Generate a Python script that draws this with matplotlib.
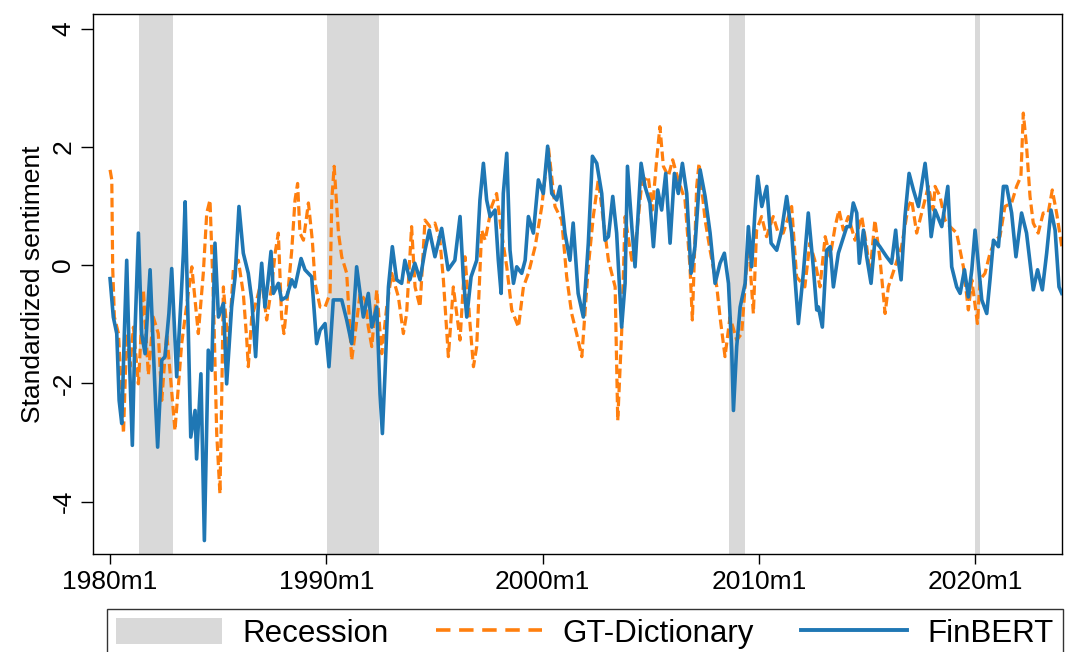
import matplotlib
matplotlib.use("Agg")
import matplotlib.pyplot as plt
from matplotlib.patches import Patch
from matplotlib.lines import Line2D

plt.rcParams['font.family'] = ['Liberation Sans', 'DejaVu Sans']

# FinBERT series (decimal year, standardized sentiment)
fin_t = [1980.00, 1980.15, 1980.31, 1980.42, 1980.54, 1980.66, 1980.77, 1980.88, 1981.03, 1981.15,
         1981.31, 1981.46, 1981.62, 1981.85, 1982.00, 1982.11, 1982.20, 1982.39, 1982.54, 1982.72,
         1982.85, 1983.08, 1983.28, 1983.39, 1983.47, 1983.62, 1983.73, 1983.93, 1984.00, 1984.20,
         1984.36, 1984.54, 1984.70, 1984.85, 1985.01, 1985.24, 1985.39, 1985.62, 1985.78, 1985.96,
         1986.16, 1986.39, 1986.55, 1986.73, 1986.85, 1987.01, 1987.16, 1987.29, 1987.44, 1987.55,
         1987.78, 1987.93, 1988.16, 1988.40, 1988.55, 1988.83, 1989.01, 1989.32, 1989.55, 1989.71,
         1989.94, 1990.12, 1990.32, 1990.71, 1990.94, 1991.17, 1991.40, 1991.56, 1991.71, 1991.94,
         1992.10, 1992.33, 1992.48, 1992.59, 1992.71, 1992.87, 1993.05, 1993.25, 1993.48, 1993.63,
         1993.86, 1994.09, 1994.33, 1994.56, 1994.76, 1995.02, 1995.33, 1995.63, 1995.94, 1996.18,
         1996.33, 1996.49, 1996.69, 1996.95, 1997.10, 1997.26, 1997.41, 1997.57, 1997.80, 1997.95,
         1998.08, 1998.18, 1998.34, 1998.49, 1998.65, 1998.80, 1999.03, 1999.19, 1999.34, 1999.57,
         1999.80, 2000.03, 2000.23, 2000.42, 2000.65, 2000.80, 2001.03, 2001.26, 2001.41, 2001.64,
         2001.88, 2002.11, 2002.30, 2002.50, 2002.73, 2002.88, 2003.04, 2003.24, 2003.42, 2003.58,
         2003.65, 2003.81, 2003.92, 2004.12, 2004.27, 2004.55, 2004.73, 2004.96, 2005.12, 2005.32,
         2005.50, 2005.69, 2005.89, 2006.09, 2006.27, 2006.46, 2006.66, 2006.86, 2007.04, 2007.28,
         2007.51, 2007.74, 2007.97, 2008.20, 2008.40, 2008.59, 2008.74, 2008.82, 2008.97, 2009.13,
         2009.36, 2009.51, 2009.66, 2009.82, 2009.94, 2010.13, 2010.36, 2010.56, 2010.82, 2011.05,
         2011.28, 2011.51, 2011.82, 2012.05, 2012.28, 2012.51, 2012.67, 2012.75, 2012.93, 2013.13,
         2013.29, 2013.44, 2013.67, 2014.06, 2014.21, 2014.36, 2014.52, 2014.64, 2014.83, 2014.98,
         2015.18, 2015.36, 2015.59, 2015.90, 2016.13, 2016.32, 2016.44, 2016.57, 2016.75, 2016.94,
         2017.14, 2017.37, 2017.68, 2017.83, 2017.96, 2018.14, 2018.45, 2018.73, 2018.91, 2019.14,
         2019.30, 2019.50, 2019.68, 2019.84, 2019.99, 2020.14, 2020.30, 2020.53, 2020.68, 2020.84,
         2021.07, 2021.30, 2021.45, 2021.68, 2021.88, 2022.14, 2022.37, 2022.68, 2022.88, 2023.10,
         2023.30, 2023.50, 2023.69, 2023.87, 2024.00]
fin_v = [-0.23, -0.88, -1.16, -2.29, -2.68, -1.16, 0.08, -1.44, -3.05, -1.16,
         0.54, -1.16, -1.50, -0.08, -1.44, -2.40, -3.08, -1.61, -1.55, -0.82,
         -0.06, -1.89, -0.59, 0.20, 1.07, -1.16, -2.91, -2.46, -3.28, -1.84,
         -4.66, -1.44, -1.78, 0.37, -0.88, -0.65, -2.01, -0.71, -0.20, 0.99,
         0.20, -0.14, -0.59, -1.55, -0.71, 0.03, -0.71, -0.31, 0.23, -0.48,
         -0.31, -0.59, -0.54, -0.25, -0.37, 0.11, -0.08, -0.20, -1.33, -1.10,
         -0.99, -1.72, -0.59, -0.59, -0.93, -1.33, -0.03, -0.48, -0.88, -0.48,
         -1.05, -0.71, -2.18, -2.85, -1.84, -0.37, 0.31, -0.25, -0.31, 0.08,
         -0.25, 0.03, -0.25, 0.25, 0.59, 0.14, 0.62, -0.08, 0.08, 0.82,
         -0.20, -0.88, -0.20, 0.08, 1.10, 1.72, 1.10, 0.82, 0.93, 0.08,
         -0.48, 1.21, 1.89, 0.25, -0.31, -0.03, -0.14, 0.08, 0.82, 0.54,
         1.44, 1.21, 2.01, 1.21, 1.10, 1.33, 0.54, 0.08, 0.71, -0.48,
         -0.88, 0.37, 1.84, 1.72, 1.21, 0.42, 0.48, 1.16, 0.54, -0.59,
         -1.05, -0.31, 1.67, 0.65, -0.03, 1.72, 1.33, 1.05, 0.31, 1.27,
         0.93, 1.55, 0.37, 1.55, 1.21, 1.72, 1.21, -0.14, 0.31, 1.61,
         1.16, 0.54, -0.31, 0.03, 0.20, -0.31, -1.44, -2.46, -1.38, -0.71,
         -0.31, 0.65, -0.03, 0.93, 1.50, 0.99, 1.33, 0.37, 0.25, 0.59,
         1.16, 0.54, -0.99, -0.14, 0.88, -0.03, -0.76, -0.71, -1.05, 0.25,
         0.31, -0.37, 0.20, 0.65, 0.65, 1.05, 0.88, 0.03, 0.59, 0.14,
         -0.31, 0.42, 0.31, 0.14, 0.03, 0.59, 0.08, -0.25, 0.82, 1.55,
         1.27, 0.99, 1.72, 1.21, 0.48, 0.93, 0.65, 1.33, -0.03, -0.37,
         -0.48, -0.08, -0.54, -0.08, 0.59, 0.03, -0.59, -0.82, -0.25, 0.42,
         0.31, 1.33, 1.33, 0.88, 0.14, 0.88, 0.54, -0.42, -0.08, -0.42,
         0.20, 0.93, 0.59, -0.37, -0.48]

# GT-Dictionary series (decimal year, standardized sentiment)
gt_t = [1980.00, 1980.08, 1980.12, 1980.20, 1980.39, 1980.62, 1980.77, 1980.92, 1981.08, 1981.31,
        1981.54, 1981.77, 1982.00, 1982.23, 1982.39, 1982.62, 1982.82, 1983.00, 1983.31, 1983.47,
        1983.78, 1983.93, 1984.08, 1984.31, 1984.47, 1984.62, 1984.78, 1984.93, 1985.08, 1985.16,
        1985.24, 1985.47, 1985.70, 1985.93, 1986.16, 1986.32, 1986.39, 1986.55, 1986.78, 1987.01,
        1987.24, 1987.47, 1987.63, 1987.78, 1987.93, 1988.04, 1988.16, 1988.40, 1988.55, 1988.67,
        1988.78, 1988.94, 1989.17, 1989.35, 1989.48, 1989.71, 1989.94, 1990.17, 1990.25, 1990.36,
        1990.56, 1990.71, 1990.94, 1991.17, 1991.33, 1991.56, 1991.79, 1991.94, 1992.10, 1992.33,
        1992.56, 1992.79, 1993.02, 1993.33, 1993.56, 1993.71, 1993.94, 1994.10, 1994.33, 1994.56,
        1994.79, 1995.02, 1995.25, 1995.41, 1995.64, 1995.87, 1996.18, 1996.41, 1996.64, 1996.80,
        1996.95, 1997.18, 1997.34, 1997.64, 1997.87, 1998.10, 1998.34, 1998.57, 1998.88, 1999.11,
        1999.34, 1999.65, 1999.96, 2000.26, 2000.57, 2000.88, 2001.11, 2001.34, 2001.57, 2001.81,
        2002.11, 2002.34, 2002.57, 2002.88, 2003.04, 2003.35, 2003.47, 2003.65, 2003.81, 2004.12,
        2004.35, 2004.58, 2004.88, 2005.07, 2005.27, 2005.42, 2005.58, 2005.81, 2006.01, 2006.27,
        2006.58, 2006.81, 2006.92, 2007.12, 2007.23, 2007.51, 2007.74, 2008.05, 2008.20, 2008.43,
        2008.66, 2008.97, 2009.20, 2009.51, 2009.74, 2009.89, 2010.12, 2010.35, 2010.66, 2010.89,
        2011.12, 2011.51, 2011.74, 2012.12, 2012.35, 2012.58, 2012.82, 2013.06, 2013.29, 2013.52,
        2013.70, 2013.90, 2014.13, 2014.44, 2014.75, 2014.98, 2015.13, 2015.36, 2015.60, 2015.83,
        2015.98, 2016.29, 2016.59, 2016.90, 2017.06, 2017.29, 2017.52, 2017.83, 2018.06, 2018.14,
        2018.37, 2018.60, 2018.83, 2019.14, 2019.30, 2019.45, 2019.68, 2019.84, 2020.10, 2020.22,
        2020.45, 2020.68, 2020.91, 2021.14, 2021.37, 2021.68, 2021.91, 2022.11, 2022.22, 2022.37,
        2022.53, 2022.68, 2022.91, 2023.14, 2023.37, 2023.56, 2023.76, 2024.00]
gt_v = [1.61, 1.44, -0.03, -0.88, -1.16, -2.85, -1.16, -1.72, -1.05, -2.01,
        -0.42, -1.86, -0.88, -1.16, -2.29, -1.16, -2.01, -2.80, -1.33, -0.88,
        -0.03, -0.59, -1.16, -0.14, 0.88, 1.10, -0.59, -2.85, -3.87, -2.29,
        -0.37, -1.44, -0.08, 0.08, -0.48, -1.27, -1.72, -0.88, -0.59, -0.25,
        -0.93, -0.37, 0.20, 0.54, -0.88, -1.16, -0.71, 0.25, 1.10, 1.38,
        0.54, 0.42, 1.05, 0.42, -0.31, -0.71, -0.71, -0.48, 1.10, 1.67,
        0.54, 0.14, -0.14, -1.61, -1.16, -0.48, -0.59, -1.05, -1.38, -0.42,
        -1.50, -0.71, -0.14, -0.54, -1.16, -0.82, 0.65, -0.37, -0.71, 0.76,
        0.65, 0.71, 0.42, -0.25, -1.55, -0.37, -1.27, 0.14, -0.99, -1.72,
        -1.38, 0.59, 0.42, 0.99, 1.21, 0.54, -0.03, -0.76, -1.05, -0.37,
        -0.14, 0.31, 0.99, 2.01, 0.99, 0.76, -0.20, -0.82, -1.16, -1.55,
        -0.03, 0.82, 1.44, 0.54, 0.08, -0.37, -2.63, -1.16, 0.82, 0.08,
        0.54, 1.38, 1.50, 0.93, 1.78, 2.34, 1.67, 1.50, 1.78, 1.44,
        1.10, -0.03, -0.93, 1.33, 1.72, 0.76, 0.25, -0.37, -0.88, -1.55,
        -0.88, -1.27, -1.16, 0.42, -0.82, 0.59, 0.82, 0.48, 0.82, 0.54,
        0.54, 0.99, -0.20, -0.37, 0.37, 0.08, -0.37, 0.48, 0.14, 0.65,
        0.93, 0.59, 0.82, 0.42, 0.82, 0.31, -0.14, 0.76, 0.08, -0.82,
        -0.37, -0.03, 0.31, 0.99, 1.10, 0.54, 0.88, 1.33, 0.93, 1.33,
        1.16, 0.76, 0.65, 0.54, 0.25, -0.03, -0.76, -0.25, -0.99, -0.25,
        -0.14, 0.20, 0.42, 0.48, 0.99, 1.05, 1.33, 1.50, 2.57, 2.01,
        1.16, 0.71, 0.54, 0.88, 0.88, 1.27, 0.88, 0.31]

# Recession periods (start, end in decimal years)
rec_start = [1981.34, 1990.01, 2008.62, 2019.97]
rec_end = [1982.90, 1992.43, 2009.36, 2020.23]

tick_years = [1980, 1990, 2000, 2010, 2020]
tick_labels = ["1980m1", "1990m1", "2000m1", "2010m1", "2020m1"]
y_ticks = [-4, -2, 0, 2, 4]

BLUE = "#1f77b4"
ORANGE = "#ff7f0e"
GRAY = "#d9d9d9"

fig = plt.figure(figsize=(10.65, 6.52), dpi=100)
ax = fig.add_axes([0.0873, 0.151, 0.9097, 0.827])

for s, e in zip(rec_start, rec_end):
    ax.axvspan(s, e, color=GRAY, lw=0, zorder=1)

ax.plot(gt_t, gt_v, color=ORANGE, lw=2.3, ls=(0, (3, 1.4)), zorder=2)
ax.plot(fin_t, fin_v, color=BLUE, lw=2.6, zorder=3)

ax.set_xlim(1979.21, 2024.0)
ax.set_ylim(-4.88, 4.24)
ax.set_xticks(tick_years)
ax.set_xticklabels(tick_labels)
ax.set_yticks(y_ticks)
ax.set_yticklabels([str(v) for v in y_ticks], rotation=90, va='center')
ax.tick_params(axis='both', direction='out', width=1, labelsize=19, colors='black')
ax.tick_params(axis='x', length=7.2, pad=5)
ax.tick_params(axis='y', length=8.6, pad=4)
ax.set_ylabel("Standardized sentiment", fontsize=19, labelpad=5)
for sp in ax.spines.values():
    sp.set_linewidth(1.0)
    sp.set_color('black')

handles = [Patch(facecolor=GRAY, edgecolor='none'),
           Line2D([], [], color=ORANGE, lw=2.6, ls=(0, (4, 2.4))),
           Line2D([], [], color=BLUE, lw=2.8)]
labels = ["Recession", "GT-Dictionary", "FinBERT"]
leg = fig.legend(handles, labels, loc='upper center', bbox_to_anchor=(0.549, 0.066),
                 borderaxespad=0.0,
                 ncol=3, fontsize=22.5, frameon=True, fancybox=False, edgecolor='black',
                 handlelength=3.4, handleheight=0.9, columnspacing=1.5, borderpad=0.3,
                 handletextpad=0.65)
leg.get_frame().set_linewidth(1.0)

fig.savefig("out.png", dpi=100)
